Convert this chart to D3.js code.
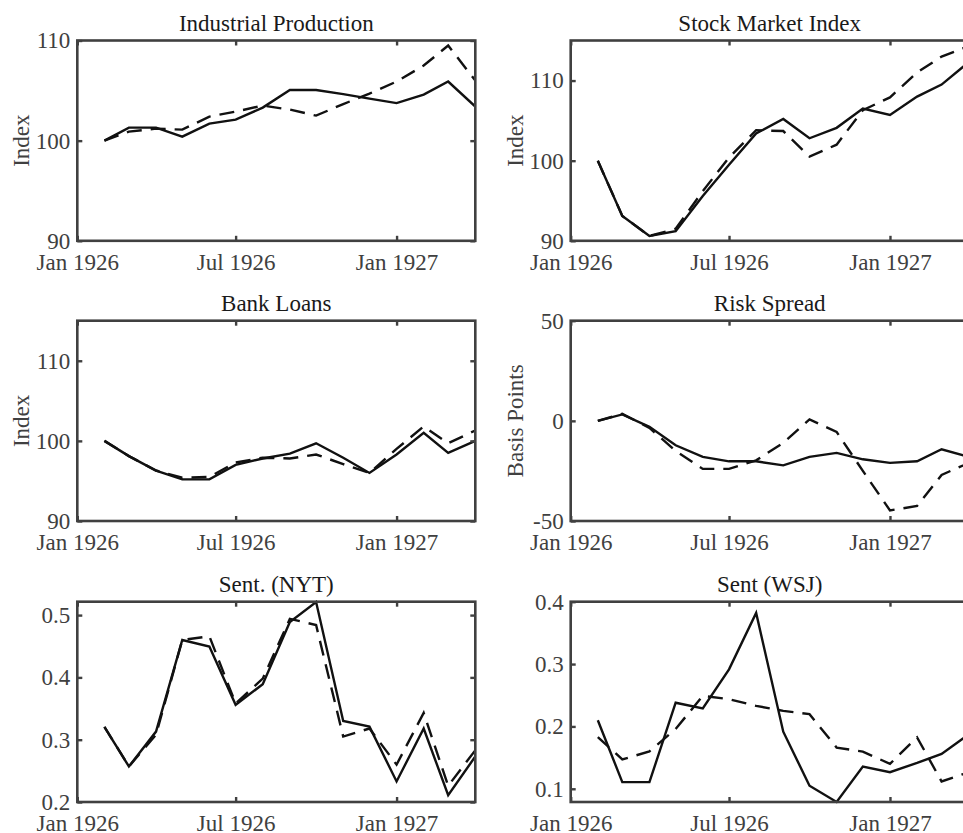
<!DOCTYPE html>
<html>
<head>
<meta charset="utf-8">
<script src="https://cdn.jsdelivr.net/npm/d3@7"></script>
<style>
  html, body { margin: 0; padding: 0; background: #fff; }
  svg { display: block; }
  text { font-family: "Liberation Serif", "Times New Roman", serif; }
</style>
</head>
<body>
<svg id="chart" width="963" height="833"></svg>
<script>
// ---- data ----
const months = ["1926-02","1926-03","1926-04","1926-05","1926-06","1926-07","1926-08","1926-09",
                "1926-10","1926-11","1926-12","1927-01","1927-02","1927-03","1927-04"];
const xTickLabels = ["Jan 1926", "Jul 1926", "Jan 1927"];
const xTickDates = ["1926-01", "1926-07", "1927-01"];

const ipActual    = [100, 101.3, 101.3, 100.4, 101.7, 102.1, 103.3, 105.05, 105.05, 104.65, 104.2, 103.75, 104.6, 105.9, 103.4];
const ipModel     = [100, 100.9, 101.2, 101.1, 102.4, 102.9, 103.5, 103.1, 102.5, 103.65, 104.7, 105.9, 107.5, 109.5, 106.0];

const stockActual = [100, 93.1, 90.6, 91.2, 95.6, 99.5, 103.4, 105.2, 102.8, 104.1, 106.5, 105.7, 108.0, 109.5, 112.3];
const stockModel  = [100, 93.1, 90.6, 91.5, 96.2, 100.4, 103.8, 103.7, 100.5, 102.0, 106.3, 107.9, 111.0, 113.0, 114.3];

const bankActual  = [100, 98.1, 96.3, 95.2, 95.2, 97.0, 97.8, 98.4, 99.7, 97.9, 96.0, 98.3, 101.0, 98.5, 100.0];
const bankModel   = [100, 98.1, 96.3, 95.4, 95.5, 97.3, 97.9, 97.8, 98.3, 97.1, 96.0, 99.0, 101.8, 99.7, 101.3];

const riskActual  = [0, 3.2, -3, -12.2, -18, -20.2, -20.2, -22.2, -18, -16, -19.2, -21, -20.2, -14.2, -18];
const riskModel   = [0, 3.5, -3.5, -15, -24, -24, -19.7, -11, 0.7, -5.5, -25, -44.7, -42.5, -27, -21];

const nytActual   = [0.3207, 0.257, 0.313, 0.460, 0.4495, 0.356, 0.389, 0.489, 0.521, 0.330, 0.321, 0.233, 0.318, 0.211, 0.273];
const nytModel    = [0.3207, 0.257, 0.308, 0.460, 0.466, 0.358, 0.398, 0.494, 0.484, 0.305, 0.318, 0.260, 0.343, 0.226, 0.283];

const wsjActual   = [0.210, 0.1106, 0.1106, 0.238, 0.2287, 0.2915, 0.382, 0.1915, 0.105, 0.0788, 0.1356, 0.1266, 0.1415, 0.156, 0.187];
const wsjModel    = [0.183, 0.147, 0.160, 0.196, 0.249, 0.2436, 0.233, 0.225, 0.2197, 0.166, 0.1596, 0.140, 0.1825, 0.1117, 0.1266];

const titles   = ["Industrial Production", "Stock Market Index", "Bank Loans", "Risk Spread", "Sent. (NYT)", "Sent (WSJ)"];
const yLabels  = ["Index", "Index", "Index", "Basis Points", "", ""];
const yDomains = [[90, 110], [90, 115], [90, 115], [-50, 50], [0.2, 0.5215], [0.0788, 0.4]];
const yTicks   = [[90, 100, 110], [90, 100, 110], [90, 100, 110], [-50, 0, 50], [0.2, 0.3, 0.4, 0.5], [0.1, 0.2, 0.3, 0.4]];
const yTickLabels = [["90","100","110"], ["90","100","110"], ["90","100","110"], ["-50","0","50"],
                     ["0.2","0.3","0.4","0.5"], ["0.1","0.2","0.3","0.4"]];
const seriesActual = [ipActual, stockActual, bankActual, riskActual, nytActual, wsjActual];
const seriesModel  = [ipModel, stockModel, bankModel, riskModel, nytModel, wsjModel];

// ---- layout ----
const parse = d3.timeParse("%Y-%m");
const dates = months.map(parse);
const tickDates = xTickDates.map(parse);
const colLeft = [77.3, 570.7];
const rowTop = [40.5, 320.7, 601.7];
const W = 398, H = 200.3;
const FONT = 23;
const AXC = "#404040";

const svg = d3.select("#chart");

titles.forEach((title, i) => {
  const col = i % 2, row = Math.floor(i / 2);
  const L = colLeft[col], T = rowTop[row];
  const g = svg.append("g").attr("transform", `translate(${L},${T})`);

  const x = d3.scaleTime().domain([parse("1926-01"), parse("1927-04")]).range([0, W]);
  const y = d3.scaleLinear().domain(yDomains[i]).range([H, 0]);

  const clipId = "clip" + i;
  g.append("clipPath").attr("id", clipId).append("rect")
    .attr("x", 0).attr("y", -2).attr("width", W).attr("height", H + 4);

  const line = d3.line().x((d, k) => x(dates[k])).y(d => y(d));
  const lg = g.append("g").attr("clip-path", `url(#${clipId})`);
  lg.append("path").datum(seriesActual[i]).attr("d", line)
    .attr("fill", "none").attr("stroke", "#111").attr("stroke-width", 2.4)
    .attr("stroke-linejoin", "miter");
  lg.append("path").datum(seriesModel[i]).attr("d", line)
    .attr("fill", "none").attr("stroke", "#111").attr("stroke-width", 2.4)
    .attr("stroke-dasharray", "15,9");

  // axes
  const xb = d3.axisBottom(x).tickValues(tickDates)
    .tickFormat((d, k) => xTickLabels[k]).tickSizeInner(-5).tickSizeOuter(0).tickPadding(12.7);
  const xt = d3.axisTop(x).tickValues(tickDates).tickFormat("").tickSizeInner(-5).tickSizeOuter(0);
  const yl = d3.axisLeft(y).tickValues(yTicks[i])
    .tickFormat((d, k) => yTickLabels[i][k]).tickSizeInner(-5).tickSizeOuter(0).tickPadding(7);
  const yr = d3.axisRight(y).tickValues(yTicks[i]).tickFormat("").tickSizeInner(-5).tickSizeOuter(0);

  const styleAxis = sel => {
    sel.select(".domain").remove();
    sel.selectAll(".tick line").attr("stroke", AXC).attr("stroke-width", 2.4);
    sel.selectAll(".tick text").attr("fill", AXC).style("font-size", FONT + "px")
      .style("font-family", '"Liberation Serif", "Times New Roman", serif');
  };
  g.append("g").attr("transform", `translate(0,${H})`).call(xb).call(styleAxis);
  g.append("g").call(xt).call(styleAxis);
  g.append("g").call(yl).call(styleAxis);
  g.append("g").attr("transform", `translate(${W},0)`).call(yr).call(styleAxis);

  g.append("rect").attr("x", 0).attr("y", 0).attr("width", W).attr("height", H)
    .attr("fill", "none").attr("stroke", AXC).attr("stroke-width", 2.6);

  // title
  g.append("text").attr("x", W / 2).attr("y", -10).attr("text-anchor", "middle")
    .attr("fill", "#1a1a1a").style("font-size", FONT + "px").text(title);

  // y label
  if (yLabels[i]) {
    g.append("text").attr("transform", `translate(-48,${H / 2}) rotate(-90)`)
      .attr("text-anchor", "middle").attr("fill", AXC).style("font-size", FONT + "px")
      .text(yLabels[i]);
  }
});
</script>
</body>
</html>
